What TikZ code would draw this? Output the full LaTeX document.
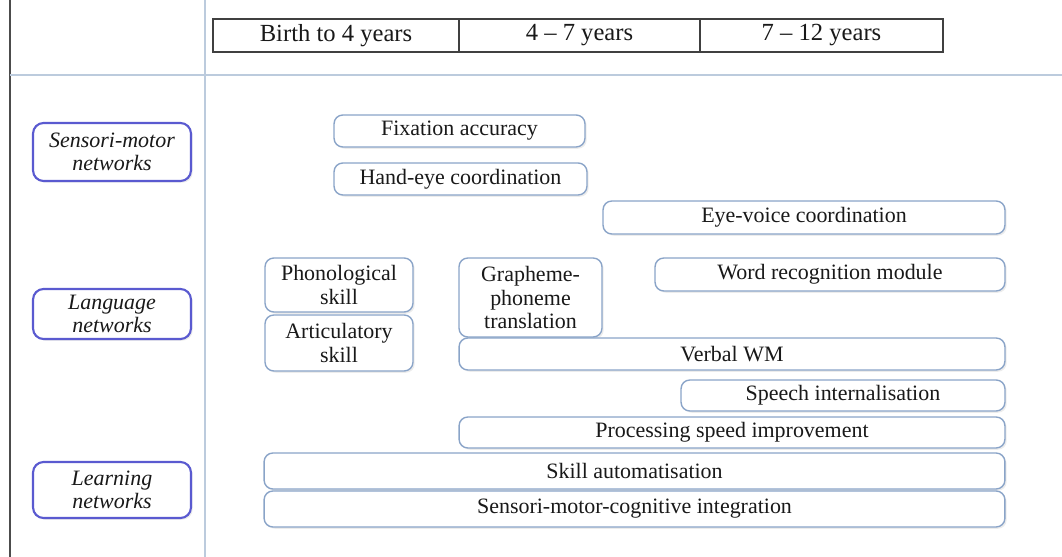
\documentclass[tikz,border=0pt]{standalone}
\usepackage{fontspec}
\setmainfont{Liberation Serif}
\usepackage{tikz}
\usetikzlibrary{positioning,shadows}

\definecolor{boxline}{HTML}{8AA4C8}
\definecolor{netline}{HTML}{5A5AD0}
\definecolor{gridline}{HTML}{BCCBDD}

\begin{document}
\begin{tikzpicture}[x=0.02cm,y=-0.02cm,semithick]
		\tikzstyle{every node}=[inner sep=0pt, text=black!90]
		\tikzstyle{age}=[rectangle, draw=black!75, thick, fill=white, minimum height=0.66cm, font=\fontsize{14}{15}\selectfont]
		\tikzstyle{net}=[rectangle, rounded corners=6pt, draw=netline, very thick, fill=white, minimum width=3.16cm, align=center, font=\fontsize{12.5}{13}\selectfont\itshape, drop shadow={opacity=0.15, shadow xshift=1pt, shadow yshift=-1pt}]
		\tikzstyle{skill}=[rectangle, rounded corners=5pt, draw=boxline, thick, fill=white, align=center, font=\fontsize{12.5}{13.5}\selectfont, drop shadow={opacity=0.15, shadow xshift=1pt, shadow yshift=-1pt}]
		
		\useasboundingbox (0,0) rectangle (1062,557);
		
		% frame lines
		\draw[black!70, line width=1.5pt] (10,0) -- (10,557);
		\draw[gridline] (205,0) -- (205,557);
		\draw[gridline] (10,75) -- (1062,75);
		
		% age bands
		\node[age, minimum width=4.92cm] (a1) at (336,35.5) {Birth to 4 years};
		\node[age, minimum width=4.82cm] (a2) at (579.5,35.5) {4 -- 7 years};
		\node[age, minimum width=4.86cm] (a3) at (821.5,35.5) {7 -- 12 years};
		
		% networks
		\node[net, minimum height=1.16cm] (sm) at (112,152) {Sensori-motor\\networks};
		\node[net, minimum height=1.0cm]  (ln) at (112,314) {Language\\networks};
		\node[net, minimum height=1.12cm] (lr) at (112,490) {Learning\\networks};
		
		% skills
		\node[skill, minimum width=5.02cm, minimum height=0.64cm] (fa) at (459.5,131) {Fixation accuracy};
		\node[skill, minimum width=5.06cm, minimum height=0.64cm] (he) at (460.5,179) {Hand-eye coordination};
		\node[skill, minimum width=8.04cm, minimum height=0.66cm] (ev) at (804,217.5) {Eye-voice coordination};
		\node[skill, minimum width=2.96cm, minimum height=1.08cm] (ph) at (339,285) {Phonological\\skill};
		\node[skill, minimum width=2.96cm, minimum height=1.12cm] (ar) at (339,343) {Articulatory\\skill};
		\node[skill, minimum width=2.86cm, minimum height=1.58cm] (gp) at (530.5,297.5) {Grapheme-\\phoneme\\translation};
		\node[skill, minimum width=7.0cm, minimum height=0.66cm] (wr) at (830,274.5) {Word recognition module};
		\node[skill, minimum width=10.92cm, minimum height=0.64cm] (vw) at (732,354) {Verbal WM};
		\node[skill, minimum width=6.48cm, minimum height=0.62cm] (si) at (843,395.5) {Speech internalisation};
		\node[skill, minimum width=10.92cm, minimum height=0.62cm] (ps) at (732,432.5) {Processing speed improvement};
		\node[skill, minimum width=14.82cm, minimum height=0.72cm] (sa) at (634.5,471) {Skill automatisation};
		\node[skill, minimum width=14.82cm, minimum height=0.72cm] (sc) at (634.5,509) {Sensori-motor-cognitive integration};
		\end{tikzpicture}
\end{document}
